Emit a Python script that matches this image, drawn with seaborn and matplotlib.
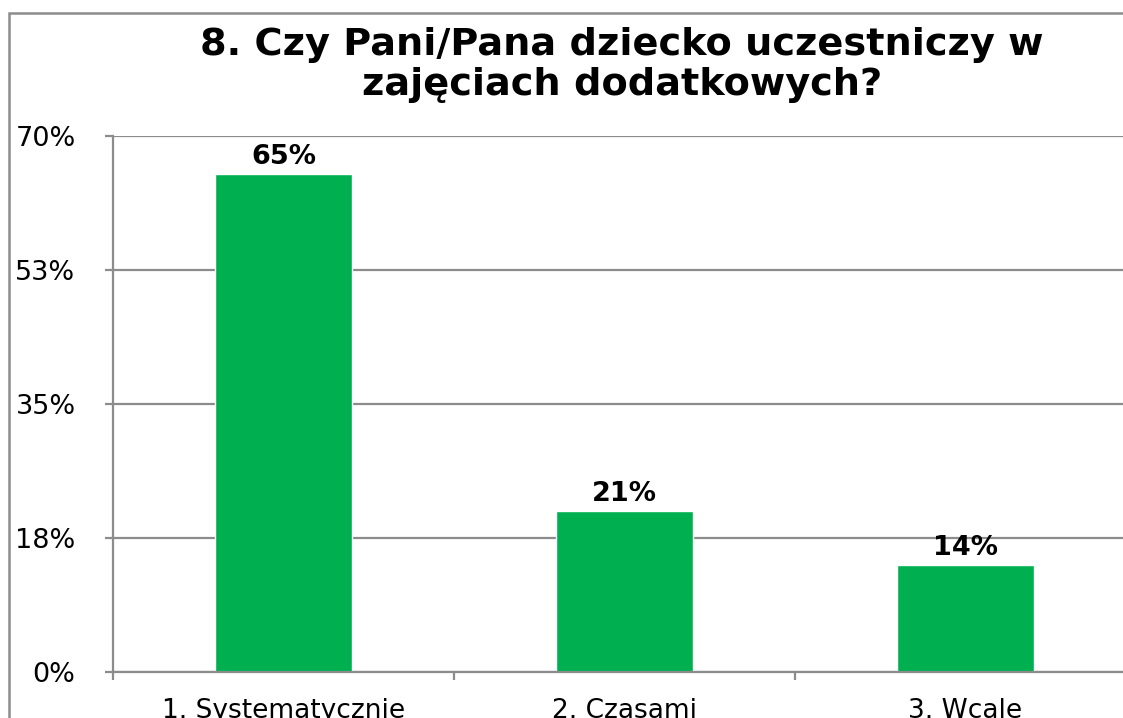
import matplotlib
matplotlib.use("Agg")

import pandas as pd
import seaborn as sns
import matplotlib.pyplot as plt
from matplotlib.patches import Rectangle

# dane z wykresu
kategorie = ["1. Systematycznie", "2. Czasami", "3. Wcale"]
wartosci = [65, 21, 14]
etykiety_wartosci = ["65%", "21%", "14%"]
ticki_y = [0, 17.5, 35, 52.5, 70]
etykiety_y = ["0%", "18%", "35%", "53%", "70%"]
tytul = "8. Czy Pani/Pana dziecko uczestniczy w\nzajęciach dodatkowych?"

df = pd.DataFrame({"kategoria": kategorie, "wartosc": wartosci})

sns.set_theme(style="white")
plt.rcParams["font.family"] = ["DejaVu Sans"]
plt.rcParams["text.color"] = "black"

szary = "#8c8c8c"
zielony = "#00b050"

W, H = 1123, 718
fig = plt.figure(figsize=(W / 100, H / 100), dpi=100)
fig.patch.set_facecolor("white")

# obszar wykresu wychodzi poza prawa krawedz (obraz jest przyciety)
lewo, gora, dol, prawo = 113, 136, 672, 1136
ax = fig.add_axes([lewo / W, 1 - dol / H, (prawo - lewo) / W, (dol - gora) / H])

sns.barplot(data=df, x="kategoria", y="wartosc", color=zielony, saturation=1,
            width=0.4, ax=ax, zorder=3)

ax.set_ylim(0, 70)
ax.set_xlim(-0.5, 2.5)
ax.set_yticks(ticki_y)
ax.set_yticklabels(etykiety_y)
ax.set_xlabel("")
ax.set_ylabel("")

ax.yaxis.grid(True, color=szary, linewidth=1.6, zorder=0)
ax.xaxis.grid(False)
ax.set_axisbelow(True)

for s in ["top", "right"]:
    ax.spines[s].set_visible(False)
for s in ["left", "bottom"]:
    ax.spines[s].set_color(szary)
    ax.spines[s].set_linewidth(1.6)
    ax.spines[s].set_zorder(4)

ax.tick_params(axis="y", which="both", left=True, length=6, width=1.6, color=szary,
               pad=21, labelsize=19.5, labelcolor="black")
# znaczniki kategorii na granicach
ax.set_xticks([-0.5, 0.5, 1.5, 2.5], minor=True)
ax.tick_params(axis="x", which="minor", bottom=True, length=6, width=1.6, color=szary)
ax.tick_params(axis="x", which="major", bottom=False, length=0, pad=19,
               labelsize=19, labelcolor="black")

for i, (v, t) in enumerate(zip(wartosci, etykiety_wartosci)):
    ax.annotate(t, (i, v), xytext=(0, 3), textcoords="offset points",
                ha="center", va="bottom", fontsize=19.5, fontweight="bold", color="black")

fig.text(622 / W, 1 - 65 / H, tytul, ha="center", va="center", fontsize=27.5,
         fontweight="bold", linespacing=1.15, color="black")

# ramka wokol wykresu
fig.patches.append(Rectangle((9 / W, -0.2), 1.2, 1 - 13 / H + 0.2, transform=fig.transFigure,
                             fill=False, edgecolor=szary, linewidth=1.8, clip_on=False))

fig.savefig("out.png", dpi=100, facecolor="white")
